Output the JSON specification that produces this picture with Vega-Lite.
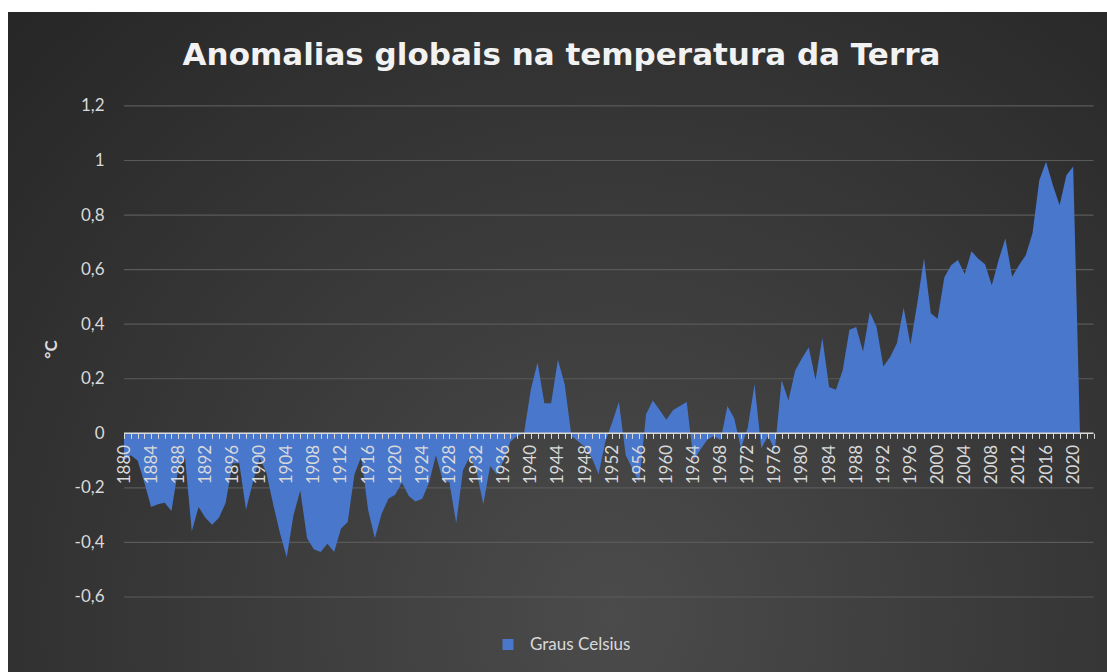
{
  "$schema": "https://vega.github.io/schema/vega-lite/v6.json",
  "width": 1099,
  "height": 660,
  "autosize": {"type": "none"},
  "padding": {"left": 8, "top": 12, "right": 0, "bottom": 0},
  "background": "white",
  "view": {
    "stroke": null,
    "fill": {
      "gradient": "radial",
      "x1": 0.55, "y1": 0.75, "r1": 0,
      "x2": 0.55, "y2": 0.75, "r2": 0.78,
      "stops": [
        {"offset": 0, "color": "#4b4b4b"},
        {"offset": 1, "color": "#262626"}
      ]
    }
  },
  "title": {
    "text": "Anomalias globais na temperatura da Terra",
    "font": "DejaVu Sans",
    "fontSize": 31,
    "fontWeight": "bold",
    "color": "#f2f2f2",
    "anchor": "middle",
    "frame": "group",
    "baseline": "alphabetic",
    "offset": -84,
    "dx": 4
  },
  "resolve": {"axis": {"x": "independent"}},
  "datasets": {
    "grid": [
      {"g": -0.6}, {"g": -0.4}, {"g": -0.2}, {"g": 0}, {"g": 0.2},
      {"g": 0.4}, {"g": 0.6}, {"g": 0.8}, {"g": 1.0}, {"g": 1.2}
    ],
    "temp": [
      {"year": 1880, "value": -0.10}, {"year": 1881, "value": -0.08}, {"year": 1882, "value": -0.10},
      {"year": 1883, "value": -0.18}, {"year": 1884, "value": -0.27}, {"year": 1885, "value": -0.26},
      {"year": 1886, "value": -0.255}, {"year": 1887, "value": -0.285}, {"year": 1888, "value": -0.13},
      {"year": 1889, "value": -0.09}, {"year": 1890, "value": -0.36}, {"year": 1891, "value": -0.27},
      {"year": 1892, "value": -0.31}, {"year": 1893, "value": -0.335}, {"year": 1894, "value": -0.31},
      {"year": 1895, "value": -0.255}, {"year": 1896, "value": -0.11}, {"year": 1897, "value": -0.11},
      {"year": 1898, "value": -0.28}, {"year": 1899, "value": -0.18}, {"year": 1900, "value": -0.09},
      {"year": 1901, "value": -0.145}, {"year": 1902, "value": -0.26}, {"year": 1903, "value": -0.365},
      {"year": 1904, "value": -0.455}, {"year": 1905, "value": -0.30}, {"year": 1906, "value": -0.21},
      {"year": 1907, "value": -0.385}, {"year": 1908, "value": -0.425}, {"year": 1909, "value": -0.435},
      {"year": 1910, "value": -0.405}, {"year": 1911, "value": -0.435}, {"year": 1912, "value": -0.35},
      {"year": 1913, "value": -0.325}, {"year": 1914, "value": -0.15}, {"year": 1915, "value": -0.085},
      {"year": 1916, "value": -0.28}, {"year": 1917, "value": -0.385}, {"year": 1918, "value": -0.295},
      {"year": 1919, "value": -0.24}, {"year": 1920, "value": -0.225}, {"year": 1921, "value": -0.18},
      {"year": 1922, "value": -0.23}, {"year": 1923, "value": -0.25}, {"year": 1924, "value": -0.24},
      {"year": 1925, "value": -0.18}, {"year": 1926, "value": -0.08}, {"year": 1927, "value": -0.17},
      {"year": 1928, "value": -0.18}, {"year": 1929, "value": -0.33}, {"year": 1930, "value": -0.135},
      {"year": 1931, "value": -0.085}, {"year": 1932, "value": -0.14}, {"year": 1933, "value": -0.26},
      {"year": 1934, "value": -0.12}, {"year": 1935, "value": -0.15}, {"year": 1936, "value": -0.10},
      {"year": 1937, "value": -0.03}, {"year": 1938, "value": -0.01}, {"year": 1939, "value": 0.0},
      {"year": 1940, "value": 0.16}, {"year": 1941, "value": 0.26}, {"year": 1942, "value": 0.11},
      {"year": 1943, "value": 0.11}, {"year": 1944, "value": 0.27}, {"year": 1945, "value": 0.18},
      {"year": 1946, "value": -0.01}, {"year": 1947, "value": -0.03}, {"year": 1948, "value": -0.05},
      {"year": 1949, "value": -0.09}, {"year": 1950, "value": -0.15}, {"year": 1951, "value": -0.03},
      {"year": 1952, "value": 0.04}, {"year": 1953, "value": 0.115}, {"year": 1954, "value": -0.08},
      {"year": 1955, "value": -0.13}, {"year": 1956, "value": -0.18}, {"year": 1957, "value": 0.07},
      {"year": 1958, "value": 0.12}, {"year": 1959, "value": 0.085}, {"year": 1960, "value": 0.05},
      {"year": 1961, "value": 0.085}, {"year": 1962, "value": 0.10}, {"year": 1963, "value": 0.115},
      {"year": 1964, "value": -0.10}, {"year": 1965, "value": -0.06}, {"year": 1966, "value": -0.025},
      {"year": 1967, "value": -0.01}, {"year": 1968, "value": -0.025}, {"year": 1969, "value": 0.10},
      {"year": 1970, "value": 0.055}, {"year": 1971, "value": -0.055}, {"year": 1972, "value": 0.02},
      {"year": 1973, "value": 0.18}, {"year": 1974, "value": -0.055}, {"year": 1975, "value": -0.01},
      {"year": 1976, "value": -0.06}, {"year": 1977, "value": 0.195}, {"year": 1978, "value": 0.12},
      {"year": 1979, "value": 0.23}, {"year": 1980, "value": 0.275}, {"year": 1981, "value": 0.315},
      {"year": 1982, "value": 0.195}, {"year": 1983, "value": 0.35}, {"year": 1984, "value": 0.17},
      {"year": 1985, "value": 0.16}, {"year": 1986, "value": 0.23}, {"year": 1987, "value": 0.38},
      {"year": 1988, "value": 0.39}, {"year": 1989, "value": 0.30}, {"year": 1990, "value": 0.445},
      {"year": 1991, "value": 0.39}, {"year": 1992, "value": 0.245}, {"year": 1993, "value": 0.28},
      {"year": 1994, "value": 0.33}, {"year": 1995, "value": 0.46}, {"year": 1996, "value": 0.325},
      {"year": 1997, "value": 0.476}, {"year": 1998, "value": 0.642}, {"year": 1999, "value": 0.44},
      {"year": 2000, "value": 0.42}, {"year": 2001, "value": 0.572}, {"year": 2002, "value": 0.616},
      {"year": 2003, "value": 0.635}, {"year": 2004, "value": 0.584}, {"year": 2005, "value": 0.667},
      {"year": 2006, "value": 0.64}, {"year": 2007, "value": 0.62}, {"year": 2008, "value": 0.543},
      {"year": 2009, "value": 0.635}, {"year": 2010, "value": 0.714}, {"year": 2011, "value": 0.574},
      {"year": 2012, "value": 0.616}, {"year": 2013, "value": 0.653}, {"year": 2014, "value": 0.733},
      {"year": 2015, "value": 0.928}, {"year": 2016, "value": 0.995}, {"year": 2017, "value": 0.91},
      {"year": 2018, "value": 0.836}, {"year": 2019, "value": 0.946}, {"year": 2020, "value": 0.978},
      {"year": 2021, "value": 0}
    ]
  },
  "layer": [
    {
      "data": {"name": "grid"},
      "mark": {"type": "rule", "color": "#5a5a5a", "strokeWidth": 1.2},
      "encoding": {
        "y": {"field": "g", "type": "quantitative", "title": "°C",
              "scale": {"domain": [-0.875, 1.5444], "nice": false, "zero": false}},
        "x": {"datum": 1880, "type": "quantitative", "title": null, "axis": null,
              "scale": {"domain": [1862.89, 2024.99], "nice": false, "zero": false}},
        "x2": {"datum": 2023}
      }
    },
    {
      "data": {"name": "temp"},
      "mark": {"type": "area", "opacity": 1},
      "encoding": {
        "x": {
          "field": "year", "type": "quantitative", "title": null,
          "scale": {"domain": [1862.89, 2024.99], "nice": false, "zero": false},
          "axis": {
            "title": null,
            "orient": "bottom",
            "offset": -238.7,
            "values": [1880,1884,1888,1892,1896,1900,1904,1908,1912,1916,1920,1924,1928,1932,1936,1940,1944,1948,1952,1956,1960,1964,1968,1972,1976,1980,1984,1988,1992,1996,2000,2004,2008,2012,2016,2020],
            "format": "d",
            "labelAngle": 270,
            "labelFont": "Lato",
            "labelFontSize": 17,
            "labelColor": "#d9d9d9",
            "labelPadding": 6,
            "labelOverlap": false,
            "labelBound": false,
            "labelFlush": false,
            "domain": false,
            "grid": false,
            "ticks": true,
            "tickSize": 5,
            "tickColor": "#d9d9d9",
            "tickWidth": 1,
            "zindex": 1
          }
        },
        "y": {
          "field": "value", "type": "quantitative", "title": "°C",
          "scale": {"domain": [-0.875, 1.5444], "nice": false, "zero": false},
          "axis": {
            "title": "°C",
            "titleFont": "Lato",
            "titleFontSize": 17,
            "titleFontWeight": "bold",
            "titleColor": "#d9d9d9",
            "titleAngle": 270,
            "titleAlign": "center",
            "titleBaseline": "middle",
            "titleX": -73,
            "titleY": 337,
            "orient": "left",
            "offset": -116,
            "values": [-0.6, -0.4, -0.2, 0, 0.2, 0.4, 0.6, 0.8, 1.0, 1.2],
            "labelExpr": "replace(replace(format(datum.value, '.1~f'), '.', ','), '\u2212', '-')",
            "labelFont": "Lato",
            "labelFontSize": 17,
            "labelColor": "#d9d9d9",
            "labelPadding": 20,
            "domain": false,
            "ticks": false,
            "grid": false,
            "zindex": 1
          }
        },
        "y2": {"datum": 0},
        "color": {
          "datum": "Graus Celsius",
          "type": "nominal",
          "scale": {"range": ["#4877cc"]},
          "legend": {
            "orient": "none",
            "legendX": 491.5,
            "legendY": 624,
            "title": null,
            "symbolType": "square",
            "symbolSize": 121,
            "symbolStrokeWidth": 0,
            "symbolOpacity": 1,
            "labelFont": "Lato",
            "labelFontSize": 17,
            "labelColor": "#d9d9d9",
            "labelOffset": 13.5
          }
        }
      }
    },
    {
      "data": {"name": "grid"},
      "transform": [{"filter": "datum.g == 0"}],
      "mark": {"type": "rule", "color": "#d9d9d9", "strokeWidth": 1.5},
      "encoding": {
        "y": {"field": "g", "type": "quantitative", "title": "°C",
              "scale": {"domain": [-0.875, 1.5444], "nice": false, "zero": false}},
        "x": {"datum": 1880, "type": "quantitative", "title": null,
              "scale": {"domain": [1862.89, 2024.99], "nice": false, "zero": false},
              "axis": {
                "title": null,
                "orient": "bottom",
                "offset": -238.7,
                "values": [1880,1881,1882,1883,1884,1885,1886,1887,1888,1889,1890,1891,1892,1893,1894,1895,1896,1897,1898,1899,1900,1901,1902,1903,1904,1905,1906,1907,1908,1909,1910,1911,1912,1913,1914,1915,1916,1917,1918,1919,1920,1921,1922,1923,1924,1925,1926,1927,1928,1929,1930,1931,1932,1933,1934,1935,1936,1937,1938,1939,1940,1941,1942,1943,1944,1945,1946,1947,1948,1949,1950,1951,1952,1953,1954,1955,1956,1957,1958,1959,1960,1961,1962,1963,1964,1965,1966,1967,1968,1969,1970,1971,1972,1973,1974,1975,1976,1977,1978,1979,1980,1981,1982,1983,1984,1985,1986,1987,1988,1989,1990,1991,1992,1993,1994,1995,1996,1997,1998,1999,2000,2001,2002,2003,2004,2005,2006,2007,2008,2009,2010,2011,2012,2013,2014,2015,2016,2017,2018,2019,2020,2021,2022,2023],
                "labels": false,
                "domain": false,
                "grid": false,
                "ticks": true,
                "tickSize": 5,
                "tickColor": "#d9d9d9",
                "tickWidth": 1,
                "zindex": 1
              }},
        "x2": {"datum": 2023}
      }
    }
  ]
}
